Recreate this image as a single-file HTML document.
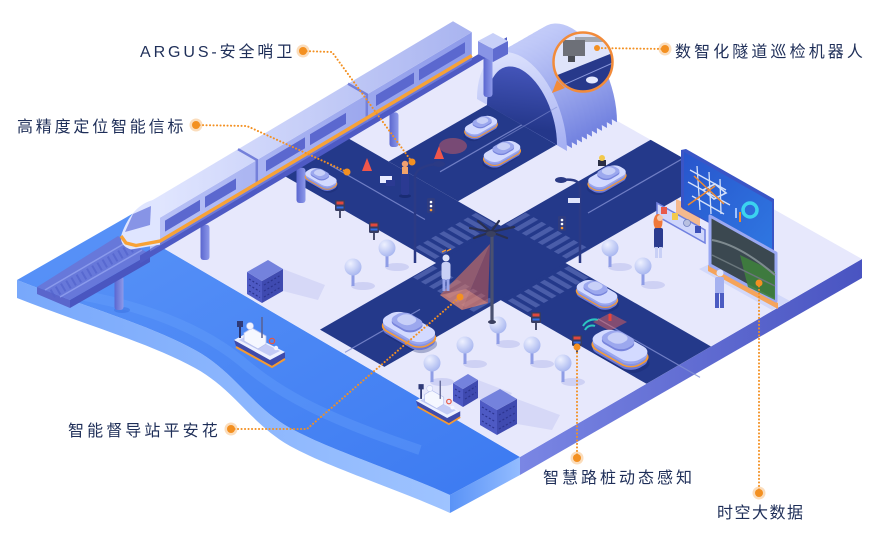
<!DOCTYPE html>
<html><head><meta charset="utf-8">
<style>
html,body{margin:0;padding:0;background:#fff;}
svg{display:block;}
text{font-family:"Liberation Sans","Noto Sans CJK SC",sans-serif;fill:#1e2e58;font-size:16px;}
</style></head><body>
<svg width="870" height="539" viewBox="0 0 870 539" xmlns="http://www.w3.org/2000/svg">
<defs>
 <clipPath id="landClip"><polygon points="158,245 495,52 862,259 520,457"/></clipPath>
 <clipPath id="magClip"><circle cx="583" cy="62" r="29"/></clipPath>
 <linearGradient id="waterTop" x1="0" y1="0" x2="1" y2="1"><stop offset="0" stop-color="#5a94f8"/><stop offset="1" stop-color="#3c7af1"/></linearGradient>
 <linearGradient id="waterSide" gradientUnits="userSpaceOnUse" x1="17" y1="0" x2="450" y2="0"><stop offset="0" stop-color="#78a8fb"/><stop offset="1" stop-color="#9ec3ff"/></linearGradient>
 <linearGradient id="waterSide2" gradientUnits="userSpaceOnUse" x1="450" y1="0" x2="520" y2="0"><stop offset="0" stop-color="#5a93f7"/><stop offset="1" stop-color="#93bcff"/></linearGradient>
 <linearGradient id="landSide" gradientUnits="userSpaceOnUse" x1="520" y1="0" x2="862" y2="0"><stop offset="0" stop-color="#7a86e4"/><stop offset="1" stop-color="#4954c1"/></linearGradient>
 <pattern id="zebA" width="8" height="40" patternUnits="userSpaceOnUse" patternTransform="matrix(1,-0.574,1,0.574,0,0)"><rect width="4.5" height="40" fill="#4a5da9"/></pattern>
 <pattern id="zebB" width="8" height="40" patternUnits="userSpaceOnUse" patternTransform="matrix(1,0.574,1,-0.574,0,0)"><rect width="4.5" height="40" fill="#4a5da9"/></pattern>
 <radialGradient id="treeG" cx=".35" cy=".3" r=".8"><stop offset="0" stop-color="#eef1ff"/><stop offset="1" stop-color="#a2b1ee"/></radialGradient>
 <linearGradient id="tunBody" x1="0" y1="1" x2="1" y2="0"><stop offset="0" stop-color="#d6ddff"/><stop offset="1" stop-color="#7080df"/></linearGradient>
 <linearGradient id="tunFront" x1="0" y1="1" x2="1" y2="0"><stop offset="0" stop-color="#eaeeff"/><stop offset="1" stop-color="#a3aef2"/></linearGradient>
 <linearGradient id="tunIn" x1="0" y1="1" x2="0.6" y2="0"><stop offset="0" stop-color="#4b5bc4"/><stop offset="1" stop-color="#24378a"/></linearGradient>
 <linearGradient id="pilG" x1="0" y1="0" x2="1" y2="0"><stop offset="0" stop-color="#5a66cf"/><stop offset="1" stop-color="#8e9aea"/></linearGradient>
 <linearGradient id="roofG" gradientUnits="userSpaceOnUse" x1="150" y1="0" x2="470" y2="0"><stop offset="0" stop-color="#e2e7ff"/><stop offset="1" stop-color="#a9b4f0"/></linearGradient>
 <linearGradient id="sideG" gradientUnits="userSpaceOnUse" x1="150" y1="0" x2="470" y2="0"><stop offset="0" stop-color="#b9c2f6"/><stop offset="1" stop-color="#8e9bea"/></linearGradient>
 <linearGradient id="scrG" x1="0" y1="0" x2="1" y2="1"><stop offset="0" stop-color="#2855cc"/><stop offset="1" stop-color="#2f78e2"/></linearGradient>
 <rect id="cb" x="-24" y="-12" width="48" height="24" rx="10"/>
 <rect id="cc" x="-14" y="-9.5" width="26" height="19" rx="8"/>
 <rect id="cr" x="-9" y="-7" width="15" height="14" rx="6"/>
 <g id="car">
  <use href="#cb" transform="matrix(.866,.5,-.866,.5,2,3)" fill="#142466" opacity=".3"/>
  <use href="#cb" transform="matrix(.866,.5,-.866,.5,0,0)" fill="#6b78d6"/>
  <use href="#cb" transform="matrix(.866,.5,-.866,.5,0,-3)" fill="#8592e4" stroke="#f59b35" stroke-width="1.8"/>
  <use href="#cb" transform="matrix(.866,.5,-.866,.5,0,-5.5)" fill="#9aa6ee"/>
  <use href="#cb" transform="matrix(.866,.5,-.866,.5,0,-8)" fill="#d3daff"/>
  <use href="#cc" transform="matrix(.866,.5,-.866,.5,-1,-11)" fill="#7784dc"/>
  <use href="#cc" transform="matrix(.866,.5,-.866,.5,-1,-13)" fill="#9ca8ee"/>
  <use href="#cr" transform="matrix(.866,.5,-.866,.5,-1,-14.5)" fill="#c8d0f8"/>
 </g>
 <g id="tree">
  <ellipse cx="10" cy="19" rx="12" ry="4" fill="#c5c9f2" opacity=".75"/>
  <rect x="-1.5" y="4" width="3" height="15" fill="#8f9de6"/>
  <circle cx="0" cy="0" r="8.5" fill="url(#treeG)"/>
 </g>
 <g id="bol">
  <rect x="-1" y="10" width="2" height="8" fill="#4a4f6e"/>
  <rect x="-5" y="0" width="10" height="11" rx="1.5" fill="#363c62"/>
  <rect x="-3.5" y="1.5" width="7" height="3" fill="#e0483c"/>
  <rect x="-3.5" y="6.5" width="7" height="2" fill="#2f6ee8"/>
 </g>
 <g id="boat">
  <polygon points="234,340 270,360 285,352 285,358 272,366 236,346" fill="#3f4bab"/>
  <polyline points="236,347 272,367 285,359" fill="none" stroke="#f59a30" stroke-width="2"/>
  <polygon points="234,340 247,333 285,352 270,360" fill="#eef1ff"/>
  <polygon points="239,340 248,335 280,351 270,356" fill="#c3cbf6"/>
  <polygon points="244,333 252,328 266,336 266,344 258,349 244,341" fill="#f5f7ff" stroke="#b7c0ee" stroke-width=".8"/>
  <line x1="240" y1="322" x2="240" y2="338" stroke="#2a3470" stroke-width="2"/>
  <rect x="237" y="321" width="6" height="6" fill="#2f3a78"/>
  <line x1="262" y1="317" x2="262" y2="338" stroke="#5a6090" stroke-width="1.5"/>
  <circle cx="250" cy="326" r="3.5" fill="#f2f4ff" stroke="#c0c8f0" stroke-width=".6"/>
  <circle cx="272" cy="341" r="2.6" fill="none" stroke="#e8563f" stroke-width="1.3"/>
  <circle cx="276" cy="348" r="2.2" fill="#f2f4ff"/>
 </g>
</defs>

<rect width="870" height="539" fill="#fff"/>

<!-- water -->
<path d="M17,280 C80,305 150,325 195,350 C235,372 250,405 290,428 C330,450 400,472 450,495 L450,513 C400,490 330,468 290,446 C250,423 235,390 195,368 C150,343 80,323 17,298 Z" fill="url(#waterSide)"/>
<polygon points="450,495 520,457 520,475 450,513" fill="url(#waterSide2)"/>
<path d="M17,280 L150,203.7 L158,245 L520,457 L450,495 C400,472 330,450 290,428 C250,405 235,372 195,350 C150,325 80,305 17,280 Z" fill="url(#waterTop)"/>
<path d="M60,292 C120,300 190,320 240,360 C280,395 330,420 420,450" fill="none" stroke="#6aa2fb" stroke-width="10" opacity=".35"/>

<!-- land -->
<polygon points="520,457 862,259 862,278 520,475" fill="url(#landSide)"/>
<polygon points="158,245 495,52 862,259 520,457" fill="#e7e8fc"/>

<!-- roads -->
<g clip-path="url(#landClip)" fill="#24398a">
 <polygon points="250,156.2 320,122.1 760,374.6 700,414.5"/>
 <polygon points="320,329.6 384.4,366.9 760,151.4 700,111.5"/>
 <polygon points="388.7,161.5 458,201.3 640,96.8 640,17.2"/>
</g>
<polygon points="432,260.7 497,223.7 477,212.2 412,249.2" fill="url(#zebA)"/>
<polygon points="505,302.3 570,265.3 590,276.8 525,313.8" fill="url(#zebA)"/>
<polygon points="505,223.7 570,260.7 590,249.2 525,212.2" fill="url(#zebB)"/>
<polygon points="432,265.3 497,302.3 477,313.8 412,276.8" fill="url(#zebB)"/>
<g stroke="#8390d4" stroke-width="1.2" opacity=".8">
 <line x1="330" y1="165" x2="425" y2="219.5"/>
 <line x1="598" y1="318.8" x2="700" y2="377.4"/>
 <line x1="345" y1="352.4" x2="420" y2="309.4"/>
 <line x1="588" y1="213" x2="690" y2="154.4"/>
 <line x1="440" y1="171.8" x2="560" y2="103"/>
</g>

<!-- tunnel -->
<g fill="url(#tunBody)">
 <path transform="translate(50,-28.7) matrix(45,26,0,-68,522,125)" d="M-1 0A1 1 0 0 0 1 0Z"/>
 <path transform="translate(45,-25.83) matrix(45,26,0,-68,522,125)" d="M-1 0A1 1 0 0 0 1 0Z"/>
 <path transform="translate(40,-22.96) matrix(45,26,0,-68,522,125)" d="M-1 0A1 1 0 0 0 1 0Z"/>
 <path transform="translate(35,-20.09) matrix(45,26,0,-68,522,125)" d="M-1 0A1 1 0 0 0 1 0Z"/>
 <path transform="translate(30,-17.22) matrix(45,26,0,-68,522,125)" d="M-1 0A1 1 0 0 0 1 0Z"/>
 <path transform="translate(25,-14.35) matrix(45,26,0,-68,522,125)" d="M-1 0A1 1 0 0 0 1 0Z"/>
 <path transform="translate(20,-11.48) matrix(45,26,0,-68,522,125)" d="M-1 0A1 1 0 0 0 1 0Z"/>
 <path transform="translate(15,-8.61) matrix(45,26,0,-68,522,125)" d="M-1 0A1 1 0 0 0 1 0Z"/>
 <path transform="translate(10,-5.74) matrix(45,26,0,-68,522,125)" d="M-1 0A1 1 0 0 0 1 0Z"/>
 <path transform="translate(5,-2.87) matrix(45,26,0,-68,522,125)" d="M-1 0A1 1 0 0 0 1 0Z"/>
</g>
<path transform="matrix(45,26,0,-68,522,125)" d="M-1 0A1 1 0 0 0 1 0Z" fill="url(#tunFront)"/>
<path transform="matrix(35,20,0,-55,522,125)" d="M-1 0A1 1 0 0 0 1 0Z" fill="url(#tunIn)"/>
<line x1="500" y1="140" x2="557" y2="107" stroke="#8390d4" stroke-width="1" opacity=".6"/>

<!-- buildings -->
<polygon points="283,291 283,269 325,285 318,300" fill="#cfd2f5" opacity=".7"/>
<polygon points="247,272 262,281 262,303 247,294" fill="#4e5ac4"/>
<polygon points="262,281 283,269 283,291 262,303" fill="#3f4ab0"/>
<polygon points="247,272 268,260 283,269 262,281" fill="#7482dd"/>
<g stroke="#2c3590" stroke-width="1.2" stroke-dasharray="2 2">
 <line x1="249" y1="279" x2="260" y2="285.5"/><line x1="249" y1="285" x2="260" y2="291.5"/><line x1="249" y1="291" x2="260" y2="297.5"/>
 <line x1="264" y1="285" x2="281" y2="275"/><line x1="264" y1="291" x2="281" y2="281"/><line x1="264" y1="297" x2="281" y2="287"/>
</g>
<polygon points="478,398 478,380 512,393 505,405" fill="#cfd2f5" opacity=".7"/>
<polygon points="453,383 463,389 463,407 453,401" fill="#4e5ac4"/>
<polygon points="463,389 478,380 478,398 463,407" fill="#3f4ab0"/>
<polygon points="453,383 468,374 478,380 463,389" fill="#7482dd"/>
<polygon points="517,424 517,399 560,415 552,430" fill="#cfd2f5" opacity=".7"/>
<polygon points="480,400 497,410 497,435 480,425" fill="#4e5ac4"/>
<polygon points="497,410 517,399 517,424 497,435" fill="#3f4ab0"/>
<polygon points="480,400 500,389 517,399 497,410" fill="#7482dd"/>
<g stroke="#2c3590" stroke-width="1.2" stroke-dasharray="2 2">
 <line x1="455" y1="389" x2="461" y2="392.5"/><line x1="455" y1="395" x2="461" y2="398.5"/>
 <line x1="465" y1="393" x2="476" y2="386.5"/><line x1="465" y1="399" x2="476" y2="392.5"/>
 <line x1="482" y1="407" x2="495" y2="414.5"/><line x1="482" y1="414" x2="495" y2="421.5"/><line x1="482" y1="421" x2="495" y2="428.5"/>
 <line x1="499" y1="415" x2="515" y2="406"/><line x1="499" y1="422" x2="515" y2="413"/><line x1="499" y1="429" x2="515" y2="420"/>
</g>

<!-- trees -->
<use href="#tree" x="387" y="248"/>
<use href="#tree" x="353" y="267"/>
<use href="#tree" x="498" y="325"/>
<use href="#tree" x="465" y="345"/>
<use href="#tree" x="532" y="345"/>
<use href="#tree" x="432" y="363"/>
<use href="#tree" x="563" y="363"/>
<use href="#tree" x="610" y="248"/>
<use href="#tree" x="643" y="266"/>

<!-- bollards -->
<use href="#bol" x="340" y="200"/>
<use href="#bol" x="374" y="222"/>
<use href="#bol" x="536" y="312"/>
<use href="#bol" x="577" y="335"/>
<path d="M585,330 a8,8 0 0 1 10,-4" fill="none" stroke="#2cc7c0" stroke-width="2"/>
<path d="M583,326 a13,13 0 0 1 15,-6" fill="none" stroke="#2cc7c0" stroke-width="2"/>

<!-- boats -->
<use href="#boat"/>
<use href="#boat" transform="translate(415,385) scale(.87) translate(-233,-322)"/>

<!-- bridge pillars -->
<ellipse cx="122" cy="310" rx="8" ry="3" fill="#3a6fe0" opacity=".5"/>
<rect x="114.5" y="276" width="9" height="34" rx="3" fill="url(#pilG)"/>
<rect x="200.5" y="224.8" width="9" height="35.2" rx="3" fill="url(#pilG)"/>
<rect x="296.5" y="167.7" width="9" height="35.3" rx="3" fill="url(#pilG)"/>
<rect x="389.5" y="112.4" width="9" height="34.6" rx="3" fill="url(#pilG)"/>
<rect x="483.5" y="56.4" width="9" height="40.6" rx="3" fill="url(#pilG)"/>

<!-- rail deck in front of nose -->
<polygon points="37,287 70,300 70,308 37,294" fill="#5a66cc"/>
<polygon points="70,300 150,254 150,262 70,308" fill="#4a56c0"/>
<polygon points="37,287 70,300 150,254 118,236" fill="#6778da"/>
<line x1="45" y1="290" x2="127" y2="242" stroke="#8a9aec" stroke-width="1.5"/>
<line x1="60" y1="297" x2="142" y2="250" stroke="#8a9aec" stroke-width="1.5"/>
<line x1="52" y1="294" x2="135" y2="246" stroke="#5363cc" stroke-width="9" stroke-dasharray="2 4" opacity=".7"/>

<!-- beam -->
<polygon points="140,255.5 507,37.1 507,45.1 140,263.5" fill="#4e5ac4"/>
<!-- train -->
<polygon points="150,223.6 471.8,32.1 471.8,59.1 150,250.6" fill="url(#sideG)"/>
<polygon points="150,249 471.8,57.5 471.8,60 150,251.5" fill="#6d79d8"/>
<polygon points="150,201.6 453,21.3 471.8,32.1 150,223.6" fill="url(#roofG)"/>
<g fill="#5b68cf">
 <polygon points="165,220.6 200,199.8 200,210.8 165,231.6"/>
 <polygon points="205,196.8 236,178.4 236,189.4 205,207.8"/>
 <polygon points="266,160.5 305,137.3 305,148.3 266,171.5"/>
 <polygon points="310,134.3 346,112.9 346,123.9 310,145.3"/>
 <polygon points="376,95.1 414,72.5 414,83.5 376,106.1"/>
 <polygon points="419,69.5 465,42.1 465,53.1 419,80.5"/>
</g>
<path d="M238,149.2 L256.8,160 L256.8,187" fill="none" stroke="#7480da" stroke-width="2.5"/>
<path d="M348,83.7 L366.8,94.5 L366.8,121.5" fill="none" stroke="#7480da" stroke-width="2.5"/>
<path d="M153,200 C137,204 127,219 122,233 C119,241 123,247 131,249.5 L160,244.6 L160,196 Z" fill="#dfe5ff"/>
<polygon points="133,214 151,206 150,225 125,232" fill="#8794e6"/>
<polyline points="121,236 126,243 136,245.5 160,241.1 471.8,55.6" fill="none" stroke="#f7a236" stroke-width="3.4" stroke-linejoin="round"/>
<!-- bridge end block -->
<polygon points="478,41 493,49 493,62 478,54" fill="#8894e6"/>
<polygon points="493,49 508,41 508,54 493,62" fill="#5f6bd0"/>
<polygon points="478,41 493,33 508,41 493,49" fill="#c8d0f8"/>

<!-- magnifier -->
<g clip-path="url(#magClip)">
 <rect x="550" y="30" width="70" height="65" fill="#dfe4fa"/>
 <polygon points="550,78 615,52 615,95 550,95" fill="#27398b"/>
 <line x1="552" y1="90" x2="615" y2="62" stroke="#8a98dc" stroke-width="1"/>
 <ellipse cx="592" cy="80" rx="6" ry="3.5" fill="#e4e9ff"/>
 <rect x="575" y="37" width="38" height="5" fill="#a3a7b0"/>
 <rect x="563" y="40" width="22" height="16" fill="#6d7078"/>
 <rect x="568" y="56" width="7" height="6" fill="#4a4d55"/>
</g>
<circle cx="583" cy="62" r="29.5" fill="none" stroke="#f28b3a" stroke-width="2.5"/>
<polygon points="557,80 565,88 552,93" fill="#f28b3a"/>

<!-- tunnel road details -->
<ellipse cx="453" cy="146" rx="14" ry="8" fill="#e0605a" opacity=".45"/>
<polygon points="367,158 362,171 372,171" fill="#f0564a"/>
<polygon points="439,146 434,159 444,159" fill="#f0564a"/>
<!-- guard -->
<ellipse cx="405" cy="196" rx="6" ry="2" fill="#10205e" opacity=".5"/>
<rect x="401" y="172" width="8" height="23" rx="2" fill="#2b3a92"/>
<rect x="402" y="167" width="6" height="7" fill="#f3a46a"/>
<circle cx="405" cy="164" r="3.2" fill="#f0a070"/>
<rect x="380" y="176" width="12" height="7" fill="#e8ebff"/>
<rect x="386" y="180" width="9" height="6" fill="#2b3a92"/>

<!-- lamps & lights -->
<path d="M415,263 L415,176 Q417,166 437,164" fill="none" stroke="#2b3a85" stroke-width="2.5"/>
<ellipse cx="439" cy="164" rx="6" ry="3" fill="#2b3a85"/>
<rect x="427" y="198" width="8" height="15" rx="1.5" fill="#2f3c80"/>
<circle cx="431" cy="202" r="1.3" fill="#fff"/><circle cx="431" cy="206" r="1.3" fill="#fff"/><circle cx="431" cy="210" r="1.3" fill="#f59b35"/>
<path d="M580,263 L580,186 Q578,178 562,180" fill="none" stroke="#2b3a85" stroke-width="2.5"/>
<ellipse cx="561" cy="180" rx="6" ry="3" fill="#2b3a85"/>
<rect x="558" y="216" width="8" height="15" rx="1.5" fill="#2f3c80"/>
<circle cx="562" cy="220" r="1.3" fill="#fff"/><circle cx="562" cy="224" r="1.3" fill="#fff"/><circle cx="562" cy="228" r="1.3" fill="#f59b35"/>
<rect x="568" y="198" width="12" height="5" fill="#dfe4fb"/>

<!-- cars -->
<use href="#car" transform="translate(321,182) scale(.6)"/>
<use href="#car" transform="translate(481,130) scale(-.62,.62)"/>
<use href="#car" transform="translate(502,157) scale(-.7,.7)"/>
<use href="#car" transform="translate(607,182) scale(-.72,.72)"/>
<rect x="598" y="160" width="8" height="6" fill="#2b2f45"/>
<circle cx="602" cy="158" r="3" fill="#f2c94c"/>
<use href="#car" transform="translate(409,335)"/>
<use href="#car" transform="translate(597,298) scale(.78)"/>
<polygon points="593,322 610,313 627,322 610,331" fill="#e0605a" opacity=".5"/>
<rect x="608.5" y="314" width="3" height="7" fill="#e8453a"/>
<use href="#car" transform="translate(620,354) scale(1.05)"/>

<!-- camera cone & pole -->
<polygon points="490,244 440,295 462,310" fill="#d9735f" opacity=".6"/>
<polygon points="490,244 462,310 488,303" fill="#c85a4a" opacity=".55"/>
<polygon points="440,295 462,310 488,303 466,289" fill="#e89a85" opacity=".45"/>
<!-- person at crosswalk -->
<circle cx="446" cy="258" r="3.5" fill="#dfe4fb"/>
<rect x="441.5" y="262" width="9" height="18" rx="3" fill="#c8d0f6"/>
<rect x="442.5" y="279" width="3" height="12" fill="#9aa6ea"/>
<rect x="446.5" y="279" width="3" height="12" fill="#9aa6ea"/>
<path d="M442,252 l4,-2 M447,251 l4,-2" stroke="#f59b35" stroke-width="1.3"/>
<line x1="492" y1="234" x2="492" y2="322" stroke="#4a5170" stroke-width="3.2"/>
<ellipse cx="492" cy="322" rx="4" ry="2" fill="#3a4060"/>
<g stroke="#2a3050" stroke-width="2.2" stroke-linecap="round">
 <line x1="491" y1="232" x2="470" y2="228"/><line x1="491" y1="232" x2="478" y2="221"/>
 <line x1="491" y1="232" x2="499" y2="221"/><line x1="491" y1="232" x2="514" y2="227"/>
 <line x1="491" y1="232" x2="507" y2="238"/><line x1="491" y1="232" x2="474" y2="238"/>
</g>
<ellipse cx="491" cy="234" rx="5" ry="3" fill="#3a4060"/>

<!-- screen area -->
<polygon points="699,269 772,310 790,301 716,261" fill="#d2d8fa"/>
<polygon points="676,199 700,210 700,232 676,221" fill="#f7ad72" opacity=".8"/>
<polygon points="681,150 686,149 774,199 774,258 683,209 681,207" fill="#3a55c6"/>
<polygon points="684,152 772,202 772,257 684,208" fill="url(#scrG)"/>
<g stroke="#e8f0ff" stroke-width="1.3" opacity=".9" fill="none">
 <line x1="690" y1="170" x2="726" y2="190"/><line x1="688" y1="182" x2="730" y2="205"/>
 <line x1="692" y1="196" x2="724" y2="214"/><line x1="697" y1="166" x2="700" y2="210"/>
 <line x1="709" y1="172" x2="711" y2="214"/><line x1="720" y1="179" x2="721" y2="214"/>
 <path d="M703,190 L715,184 L726,193 L714,199 Z" stroke-width="1.6"/>
</g>
<line x1="694" y1="176" x2="724" y2="204" stroke="#f08a30" stroke-width="1.5"/>
<line x1="688" y1="205" x2="715" y2="186" stroke="#f08a30" stroke-width="1.5"/>
<circle cx="750" cy="210" r="7" fill="none" stroke="#3bd3ef" stroke-width="3.5"/>
<rect x="735" y="208" width="2" height="10" fill="#9fc2ff"/><rect x="739" y="212" width="2" height="10" fill="#f08a30"/>
<polygon points="708,265 778,303 778,309 708,271" fill="#f5a45c"/>
<polygon points="710,216 776,253 776,301 710,265" fill="#3b4850" stroke="#9aa8f2" stroke-width="3" stroke-linejoin="round"/>
<polygon points="740,255 775,272 775,300 748,287" fill="#3f7f3c" opacity=".9"/>
<path d="M712,240 Q740,245 775,275" fill="none" stroke="#7e8a8f" stroke-width="2"/>
<path d="M712,255 L775,286" fill="none" stroke="#6a767c" stroke-width="1.5"/>
<polygon points="657,203 705,230 705,243 657,216" fill="#cfd6fb" stroke="#7080e0" stroke-width="1.5"/>
<rect x="661" y="207" width="6" height="7" fill="#e85a4a"/>
<rect x="672" y="213" width="6" height="7" fill="#f2c94c"/>
<circle cx="687" cy="223" r="3.5" fill="#b8c0e0" stroke="#7080c0" stroke-width=".8"/>
<rect x="695" y="226" width="6" height="7" fill="#3a4fb8"/>
<!-- people near screen -->
<ellipse cx="658" cy="222" rx="4.5" ry="8" fill="#f0783a"/>
<circle cx="660" cy="218" r="3" fill="#f4c7a8"/>
<rect x="654" y="228" width="9" height="20" rx="2" fill="#2b3b8f"/>
<rect x="655" y="247" width="3" height="11" fill="#c9d0f6"/><rect x="659" y="247" width="3" height="11" fill="#c9d0f6"/>
<circle cx="720" cy="273" r="3.5" fill="#dfe4fb"/>
<rect x="715" y="277" width="9" height="17" rx="2" fill="#a5b1f0"/>
<rect x="715" y="293" width="4" height="15" fill="#4b5bc2"/><rect x="720" y="293" width="4" height="15" fill="#4b5bc2"/>

<!-- connectors -->
<g fill="none" stroke="#f39021" stroke-width="2" stroke-dasharray="0.1 3.4" stroke-linecap="round">
 <polyline points="303,51 332,52 412,162"/>
 <polyline points="196,125 247,126 347,172"/>
 <polyline points="665,49 597,48"/>
 <polyline points="231,429 307,429 460,297"/>
 <polyline points="577,458 577,347"/>
 <polyline points="759,493 759,283"/>
</g>
<g fill="#f39021">
 <circle cx="303" cy="51" r="6.5" opacity=".3"/><circle cx="303" cy="51" r="4"/>
 <circle cx="196" cy="125" r="6.5" opacity=".3"/><circle cx="196" cy="125" r="4"/>
 <circle cx="665" cy="49" r="6.5" opacity=".3"/><circle cx="665" cy="49" r="4"/>
 <circle cx="231" cy="429" r="6.5" opacity=".3"/><circle cx="231" cy="429" r="4"/>
 <circle cx="577" cy="458" r="6.5" opacity=".3"/><circle cx="577" cy="458" r="4"/>
 <circle cx="759" cy="493" r="6.5" opacity=".3"/><circle cx="759" cy="493" r="4"/>
 <circle cx="412" cy="162" r="3.5"/>
 <circle cx="347" cy="172" r="3.5"/>
 <circle cx="597" cy="48" r="3"/>
 <circle cx="460" cy="297" r="3.5"/>
 <circle cx="577" cy="347" r="3.5"/>
 <circle cx="759" cy="283" r="3.5"/>
</g>

<!-- labels -->
<text x="140" y="57" style="letter-spacing:2.9px">ARGUS-安全哨卫</text>
<text x="17" y="132" style="letter-spacing:2.8px">高精度定位智能信标</text>
<text x="675" y="57" style="letter-spacing:3.1px">数智化隧道巡检机器人</text>
<text x="68" y="436" style="letter-spacing:3.1px">智能督导站平安花</text>
<text x="543" y="483" style="letter-spacing:3px">智慧路桩动态感知</text>
<text x="717" y="518" style="letter-spacing:1.5px">时空大数据</text>
</svg>
</body></html>
